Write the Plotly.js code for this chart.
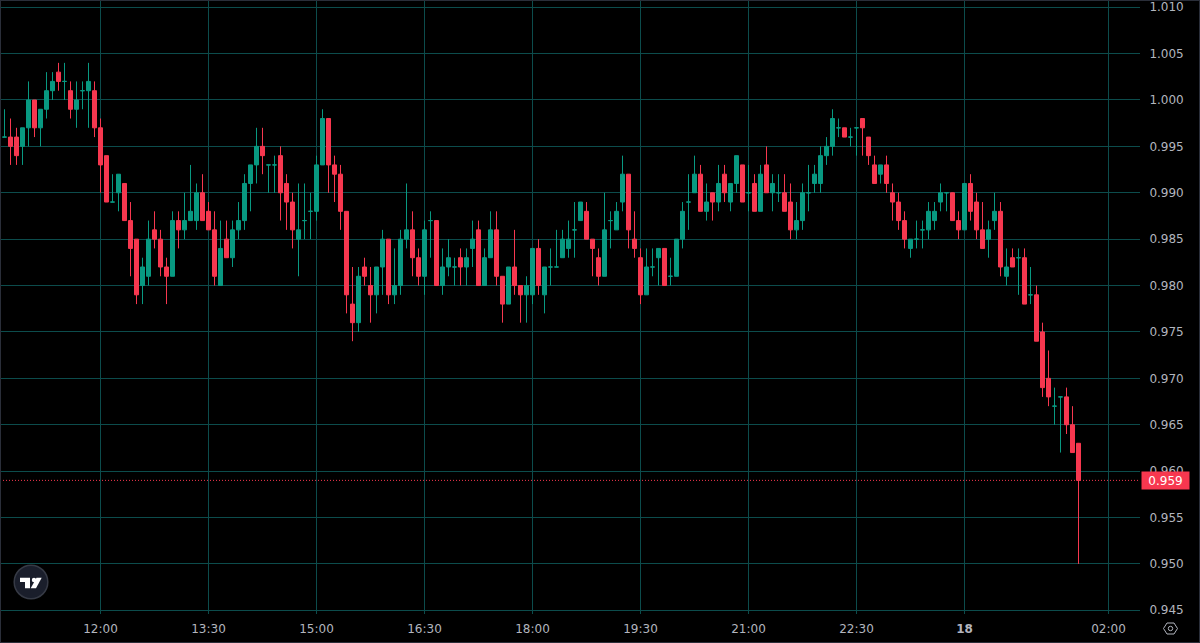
<!DOCTYPE html>
<html>
<head>
<meta charset="utf-8">
<script src="https://cdn.plot.ly/plotly-3.0.1.min.js"></script>
<style>
html,body{margin:0;padding:0;background:#000;overflow:hidden}
#chart{width:1200px;height:643px}
#frame{position:absolute;left:0;top:0;width:1200px;height:643px;box-sizing:border-box;border:1px solid #2a2e39;pointer-events:none}
</style>
</head>
<body>
<div id="chart"></div>
<div id="frame"></div>
<script>
const opens = [
.996,.996,.996,.995,.997,1.000,.997,.999,1.001,1.003,1.002,1.001,.999,1.001,1.001,1.001,.997,.994,.989,.990,
.991,.987,.985,.980,.981,.986,.985,.982,.981,.987,.986,.987,.987,.990,.988,.986,.980,.985,.983,.986,
.987,.991,.993,.995,.993,.993,.994,.991,.989,.985,.987,.988,.988,.993,.998,.993,.992,.988,.978,.976,
.982,.980,.979,.982,.985,.979,.980,.985,.986,.983,.981,.987,.987,.980,.982,.982,.983,.982,.984,.986,
.980,.983,.986,.981,.978,.982,.980,.979,.979,.984,.979,.982,.982,.983,.984,.986,.987,.988,.985,.983,
.981,.987,.986,.989,.992,.985,.983,.979,.982,.983,.984,.981,.981,.985,.989,.990,.992,.988,.990,.989,
.992,.989,.991,.993,.990,.991,.988,.993,.990,.990,.990,.989,.986,.987,.990,.991,.991,.994,.995,.997,
.997,.996,.997,.998,.996,.993,.992,.993,.990,.989,.987,.984,.985,.986,.986,.987,.989,.990,.990,.987,
.986,.991,.989,.986,.985,.987,.988,.981,.983,.983,.983,.979,.979,.975,.970,.967,.968,.968,.965,.963];
const highs = [
.999,.998,.997,.997,1.002,1.000,.999,1.003,1.003,1.004,1.004,1.002,1.002,1.002,1.004,1.002,.998,.994,.992,.992,
.991,.989,.985,.983,.987,.988,.986,.983,.988,.988,.990,.993,.991,.992,.989,.988,.987,.987,.987,.989,
.992,.993,.997,.997,.993,.994,.995,.992,.990,.991,.991,.990,.994,.999,.998,.994,.993,.988,.982,.982,
.983,.982,.982,.986,.985,.984,.986,.991,.988,.984,.987,.988,.987,.984,.985,.983,.984,.984,.987,.987,
.984,.988,.988,.981,.982,.986,.980,.981,.984,.985,.982,.984,.986,.986,.987,.989,.989,.989,.985,.984,
.990,.988,.989,.994,.992,.988,.984,.984,.984,.984,.984,.983,.985,.989,.992,.994,.993,.991,.990,.993,
.993,.991,.994,.993,.993,.992,.993,.995,.992,.992,.992,.991,.989,.991,.993,.993,.995,.996,.999,.998,
.997,.997,.997,.998,.996,.994,.993,.994,.991,.990,.988,.985,.987,.987,.989,.989,.991,.990,.990,.988,
.991,.992,.990,.989,.987,.990,.989,.984,.984,.984,.984,.982,.980,.976,.973,.969,.968,.969,.967,.963];
const lows = [
.996,.993,.993,.993,.995,.996,.995,.998,1.000,1.001,1.000,.998,.997,.999,.997,.996,.990,.989,.989,.988,
.987,.981,.978,.978,.980,.984,.981,.978,.981,.984,.985,.987,.986,.987,.986,.980,.980,.983,.982,.985,
.986,.988,.991,.992,.990,.990,.987,.986,.984,.981,.985,.985,.987,.993,.990,.989,.986,.977,.974,.975,
.980,.976,.977,.979,.978,.978,.979,.984,.981,.980,.979,.983,.980,.979,.981,.980,.980,.980,.982,.980,
.980,.983,.980,.976,.978,.979,.976,.976,.978,.979,.977,.980,.982,.983,.983,.983,.987,.985,.981,.980,
.981,.984,.986,.988,.984,.983,.978,.979,.981,.980,.980,.980,.981,.984,.986,.990,.988,.987,.987,.988,
.989,.988,.990,.989,.988,.988,.988,.990,.988,.989,.988,.985,.985,.986,.988,.990,.990,.993,.994,.996,
.996,.995,.994,.994,.993,.991,.991,.990,.987,.986,.984,.983,.984,.984,.985,.986,.988,.988,.990,.985,
.986,.987,.985,.984,.983,.986,.981,.980,.982,.979,.978,.978,.974,.968,.967,.965,.962,.964,.962,.950];
const closes = [
.996,.995,.994,.997,1.000,.997,.999,1.001,1.002,1.002,1.002,.999,1.000,1.001,1.002,.997,.993,.989,.989,.992,
.987,.984,.979,.982,.985,.985,.982,.981,.987,.986,.987,.988,.990,.987,.986,.981,.984,.983,.986,.987,
.991,.993,.995,.994,.993,.993,.990,.989,.986,.986,.987,.988,.993,.998,.993,.992,.988,.979,.976,.981,
.981,.979,.982,.985,.979,.980,.985,.986,.983,.981,.986,.987,.980,.982,.983,.982,.982,.983,.985,.980,
.983,.986,.981,.978,.982,.980,.979,.980,.984,.980,.982,.982,.982,.985,.985,.986,.989,.985,.984,.981,
.986,.987,.988,.992,.986,.984,.979,.982,.982,.984,.980,.981,.985,.988,.989,.992,.988,.989,.989,.991,
.990,.991,.994,.989,.990,.988,.992,.990,.991,.990,.988,.986,.987,.990,.990,.992,.994,.995,.998,.997,
.996,.996,.997,.997,.994,.991,.993,.991,.989,.987,.985,.985,.985,.986,.988,.988,.990,.990,.987,.986,
.991,.988,.986,.984,.986,.988,.982,.982,.982,.983,.978,.979,.974,.969,.968,.967,.968,.965,.962,.959];

const firstBar = "2024-01-17T10:40:00";
const barMinutes = 5;
const xRange = ["2024-01-17 10:36:15","2024-01-18 02:26:15"];
const yRange = [0.944600,1.010775];
const xTickVals = ["2024-01-17 12:00","2024-01-17 13:30","2024-01-17 15:00","2024-01-17 16:30","2024-01-17 18:00","2024-01-17 19:30","2024-01-17 21:00","2024-01-17 22:30","2024-01-18 00:00","2024-01-18 02:00"];
const xTickText = ["12:00","13:30","15:00","16:30","18:00","19:30","21:00","22:30","<b>18</b>","02:00"];
const yTickVals = [0.945,0.950,0.955,0.960,0.965,0.970,0.975,0.980,0.985,0.990,0.995,1.000,1.005,1.010];
const lastPrice = 0.959;

const UP="#089981", DOWN="#f7374f", GRID="#0c4c4c", TXT="#b2b5be", FONT="DejaVu Sans, sans-serif";

function barTime(i){
  const t=new Date(firstBar+"Z").getTime()+i*barMinutes*60000;
  return new Date(t).toISOString().slice(0,19).replace("T"," ");
}
function sideTrace(test,color){
  const idx=opens.map((o,i)=>i).filter(i=>test(opens[i],closes[i]));
  const side={line:{color:color,width:1},fillcolor:color};
  return {type:"candlestick",x:idx.map(barTime),open:idx.map(i=>opens[i]),high:idx.map(i=>highs[i]),
    low:idx.map(i=>lows[i]),close:idx.map(i=>closes[i]),increasing:side,decreasing:side,
    whiskerwidth:0,hoverinfo:"skip",showlegend:false};
}
const W=1140,H=614;
const X=p=>p/W, Y=p=>(H-p)/H;
function poly(pts){return pts.map((q,i)=>(i?"L":"M")+X(q[0])+" "+Y(q[1])).join(" ")+" Z";}
function paperShape(o){return Object.assign({xref:"paper",yref:"paper",layer:"above"},o);}
function circle(cx,cy,r,fill,stroke,w){
  return paperShape({type:"circle",x0:X(cx-r),x1:X(cx+r),y0:Y(cy+r),y1:Y(cy-r),fillcolor:fill,line:{color:stroke,width:w}});
}
const hex=[[1163.5,628.5],[1167,623],[1174,623],[1177.5,628.5],[1174,634],[1167,634]];

const shapes=[
  {type:"line",xref:"paper",yref:"y",x0:0,x1:1,y0:lastPrice,y1:lastPrice,layer:"above",line:{color:DOWN,width:1,dash:"1px,2px"}},
  paperShape({type:"rect",x0:X(1141),x1:X(1199),y0:Y(643),y1:Y(614),fillcolor:"#000",line:{width:0}}),
  circle(31,582,16.8,"#1a1e2b","#363a45",1.5),
  paperShape({type:"path",path:poly([[20,577.7],[30,577.7],[30,588.3],[25,588.3],[25,582],[20,582]]),fillcolor:"#fff",line:{width:0}}),
  circle(34,580,2.2,"#fff","#fff",0),
  paperShape({type:"path",path:poly([[41.7,577.7],[36,588.3],[30.7,588.3],[36.5,577.7]]),fillcolor:"#fff",line:{width:0}}),
  paperShape({type:"path",path:poly(hex),fillcolor:"rgba(0,0,0,0)",line:{color:TXT,width:1}}),
  circle(1170.5,628.5,2.2,"rgba(0,0,0,0)",TXT,1)
];

const layout={
  width:1200,height:643,paper_bgcolor:"#000",plot_bgcolor:"#000",
  margin:{l:0,r:60,t:0,b:29,pad:0},showlegend:false,dragmode:false,hovermode:false,
  boxgap:0.3333,boxgroupgap:0,
  font:{family:FONT,size:12,color:TXT},
  xaxis:{type:"date",range:xRange,rangeslider:{visible:false},tickmode:"array",tickvals:xTickVals,ticktext:xTickText,
    showgrid:true,gridcolor:GRID,gridwidth:1,zeroline:false,showline:false,ticks:"outside",ticklen:4,tickcolor:"rgba(0,0,0,0)",
    tickfont:{family:FONT,size:12,color:TXT},automargin:false,tickangle:0,ticklabeloverflow:"allow"},
  yaxis:{side:"right",range:yRange,tickmode:"array",tickvals:yTickVals,ticktext:yTickVals.map(v=>v.toFixed(3)),
    showgrid:true,gridcolor:GRID,gridwidth:1,zeroline:false,showline:false,ticks:"outside",ticklen:6,tickcolor:"rgba(0,0,0,0)",
    tickfont:{family:FONT,size:12,color:TXT},automargin:false,ticklabeloverflow:"allow"},
  shapes:shapes,
  annotations:[{xref:"paper",yref:"y",x:X(1165.5),y:lastPrice,text:lastPrice.toFixed(3),showarrow:false,xanchor:"center",yanchor:"middle",
    width:47,height:17,bgcolor:DOWN,borderpad:0,font:{family:FONT,size:12,color:"#fff"}}]
};
Plotly.newPlot("chart",[sideTrace((o,c)=>c>=o,UP),sideTrace((o,c)=>c<o,DOWN)],layout,{displayModeBar:false,staticPlot:true});
</script>
</body>
</html>
